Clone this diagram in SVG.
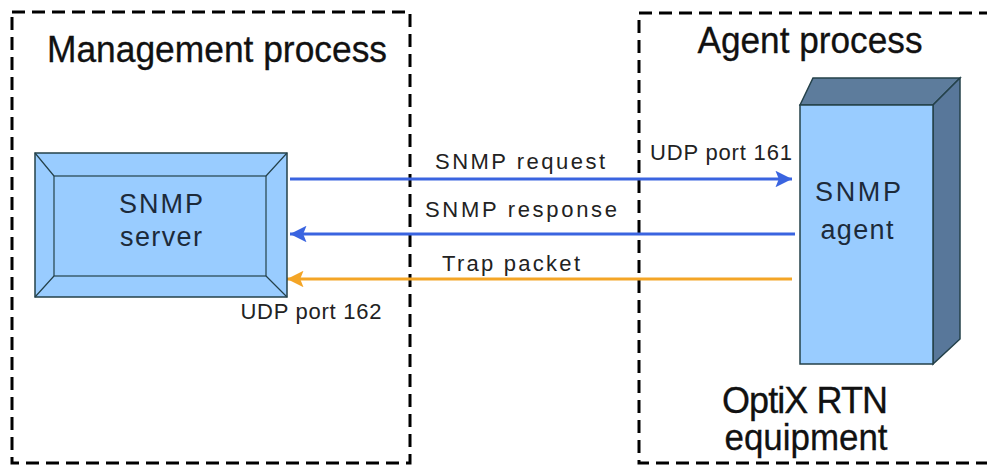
<svg xmlns="http://www.w3.org/2000/svg" width="987" height="466" viewBox="0 0 987 466">
  <style>
    .frame { fill: none; stroke: #000; stroke-width: 3; stroke-dasharray: 13 7; }
    .title { font-family: "Liberation Sans", Arial, sans-serif; font-size: 36px; fill: #111; text-anchor: middle; stroke: #111; stroke-width: 0.3; }
    .nodeText { font-family: "Liberation Sans", Arial, sans-serif; font-size: 27px; fill: #1c2a3a; text-anchor: middle; }
    .label { font-family: "Liberation Sans", Arial, sans-serif; font-size: 22px; fill: #222; text-anchor: middle; }
    .face { fill: #99ccff; stroke: #24414a; stroke-width: 1.5; }
    .bevel { fill: none; stroke: #24414a; stroke-width: 1.2; }
    .blue { stroke: #3a64e0; stroke-width: 3; fill: none; }
    .orange { stroke: #f4a526; stroke-width: 3; fill: none; }
  </style>
  <defs>
    <marker id="arrowBlue" viewBox="0 0 10 10" refX="10" refY="5" markerWidth="10" markerHeight="5.5" markerUnits="strokeWidth" orient="auto">
      <path d="M0,0 L10,5 L0,10 L2,5 z" fill="#3a64e0"/>
    </marker>
    <marker id="arrowOrange" viewBox="0 0 10 10" refX="10" refY="5" markerWidth="10" markerHeight="5.5" markerUnits="strokeWidth" orient="auto">
      <path d="M0,0 L10,5 L0,10 L2,5 z" fill="#f4a526"/>
    </marker>
  </defs>

  <rect width="987" height="466" fill="#fff"/>

  <!-- process boundaries -->
  <g id="management-process">
    <rect class="frame" x="12" y="12" width="398" height="451"/>
    <text class="title" x="217" y="62" textLength="340" lengthAdjust="spacingAndGlyphs">Management process</text>
  </g>
  <g id="agent-process">
    <rect class="frame" x="639" y="13" width="360" height="450"/>
    <text class="title" x="810" y="53" textLength="225" lengthAdjust="spacingAndGlyphs">Agent process</text>
  </g>

  <!-- connectors -->
  <g id="connectors">
    <line class="blue" x1="290" y1="179" x2="792" y2="179" marker-end="url(#arrowBlue)"/>
    <line class="blue" x1="795" y1="234" x2="290" y2="234" marker-end="url(#arrowBlue)"/>
    <line class="orange" x1="792" y1="279" x2="287" y2="279" marker-end="url(#arrowOrange)"/>
    <text class="label" x="520" y="169" textLength="170" lengthAdjust="spacing">SNMP request</text>
    <text class="label" x="521" y="217" textLength="192" lengthAdjust="spacing">SNMP response</text>
    <text class="label" x="511" y="271" textLength="138" lengthAdjust="spacing">Trap packet</text>
    <text class="label" x="721" y="160" textLength="142" lengthAdjust="spacing">UDP port 161</text>
    <text class="label" x="311" y="319" textLength="141" lengthAdjust="spacing">UDP port 162</text>
  </g>

  <!-- SNMP server: bevelled panel -->
  <g id="snmp-server">
    <rect class="face" x="35" y="153" width="252" height="144"/>
    <rect class="bevel" x="54" y="176" width="212" height="100"/>
    <path class="bevel" d="M35,153 L54,176 M287,153 L266,176 M35,297 L54,276 M287,297 L266,276"/>
    <text class="nodeText" x="161" y="213" textLength="84" lengthAdjust="spacing">SNMP</text>
    <text class="nodeText" x="161" y="246" textLength="82" lengthAdjust="spacing">server</text>
  </g>

  <!-- SNMP agent: cabinet block -->
  <g id="snmp-agent">
    <polygon points="800,105 813,78 960,78 933,105" fill="#5d7c9c" stroke="#24414a" stroke-width="1.5"/>
    <polygon points="933,105 960,78 960,339 933,364" fill="#58779a" stroke="#24414a" stroke-width="1.5"/>
    <rect class="face" x="800" y="105" width="133" height="259"/>
    <text class="nodeText" x="858" y="201" textLength="86" lengthAdjust="spacing">SNMP</text>
    <text class="nodeText" x="857" y="239" textLength="73" lengthAdjust="spacing">agent</text>
  </g>

  <g id="equipment-caption">
    <text class="title" x="805" y="413" font-size="34" textLength="166" lengthAdjust="spacing">OptiX RTN</text>
    <text class="title" x="806" y="450" font-size="34" textLength="163" lengthAdjust="spacingAndGlyphs">equipment</text>
  </g>
</svg>
